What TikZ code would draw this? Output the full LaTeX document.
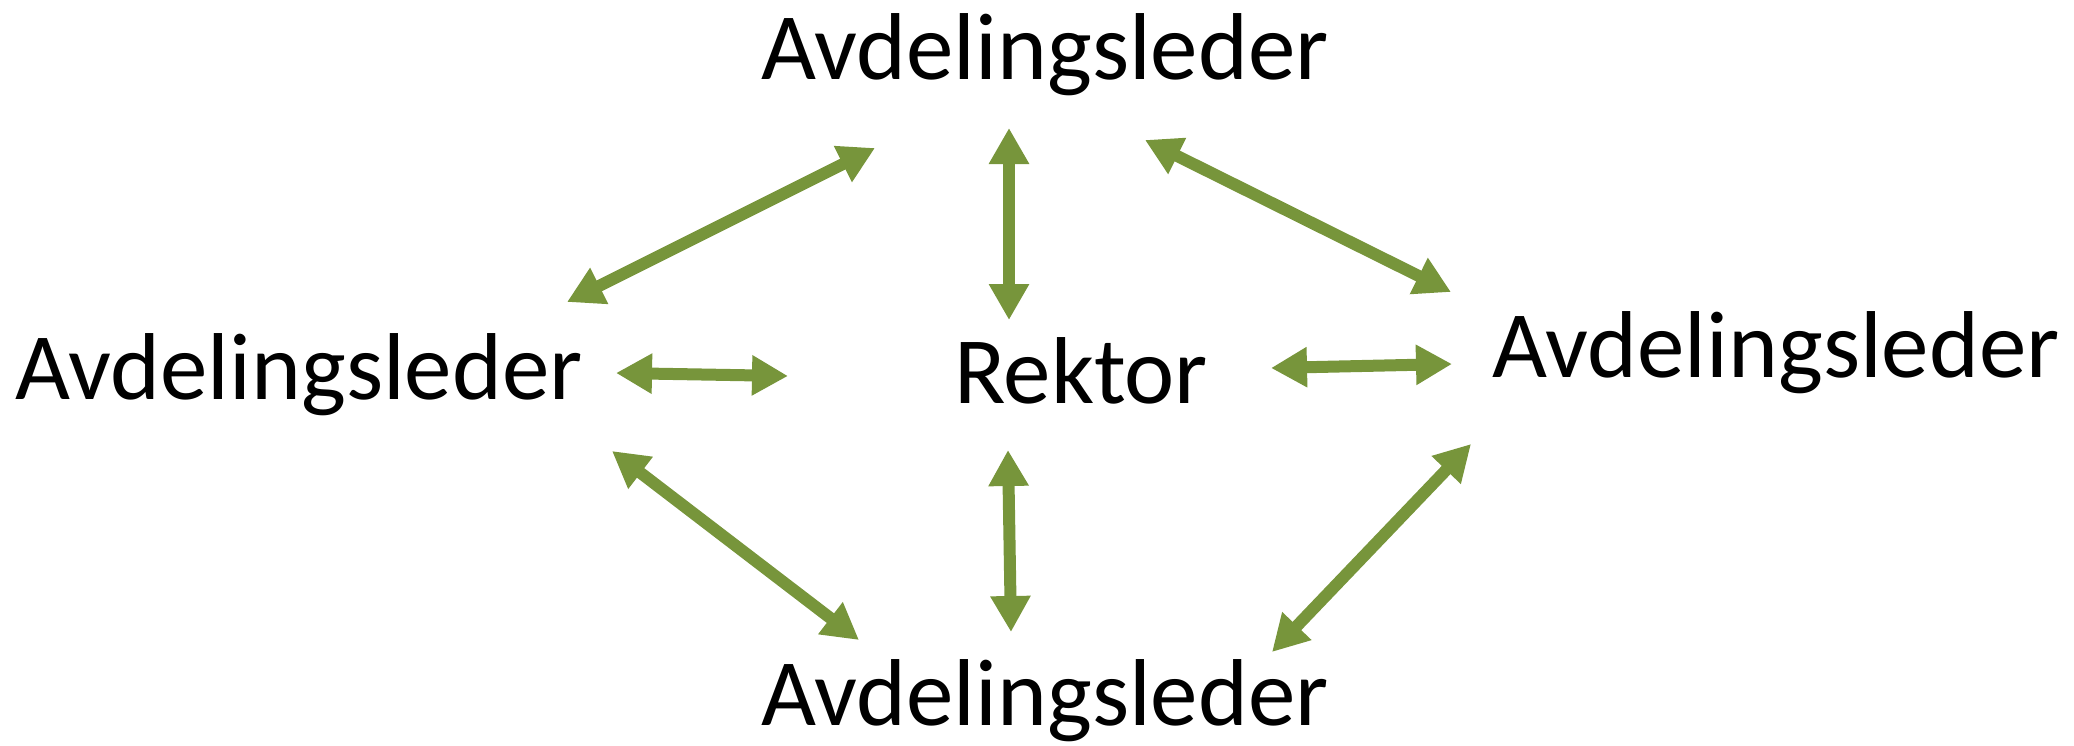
\documentclass[tikz,border=0pt]{standalone}
\usepackage{fontspec}
\setmainfont{Carlito}
\usetikzlibrary{arrows.meta}
\definecolor{olive}{HTML}{77953B}
\begin{document}
\begin{tikzpicture}[x=1pt,y=-1pt,
  lbl/.style={anchor=base,inner sep=0pt,font=\fontsize{95}{114}\selectfont},
  link/.style={draw=olive,line width=12pt,{Triangle[width=38pt,length=36pt]}-{Triangle[width=38pt,length=36pt]}}]
\useasboundingbox (0,0) rectangle (2074,745);
\node[lbl] (top) at (1045,79) {Avdelingsleder};
\node[lbl] (left) at (299,399) {Avdelingsleder};
\node[lbl] (right) at (1776,377) {Avdelingsleder};
\node[lbl] (bottom) at (1045,725) {Avdelingsleder};
\node[lbl] (rektor) at (1081,403) {Rektor};
\coordinate (a1) at (567,302); \coordinate (b1) at (875,148);
\coordinate (a2) at (1009,128); \coordinate (b2) at (1009,320);
\coordinate (a3) at (1145,140); \coordinate (b3) at (1451,292);
\coordinate (a4) at (616,373); \coordinate (b4) at (788,376);
\coordinate (a5) at (1271,368); \coordinate (b5) at (1452,364);
\coordinate (a6) at (612,451); \coordinate (b6) at (859,640);
\coordinate (a7) at (1008,450); \coordinate (b7) at (1011,632);
\coordinate (a8) at (1471,444); \coordinate (b8) at (1272,652);
\foreach \i in {1,...,8} { \path[link] (a\i) -- (b\i); }
\end{tikzpicture}
\end{document}
